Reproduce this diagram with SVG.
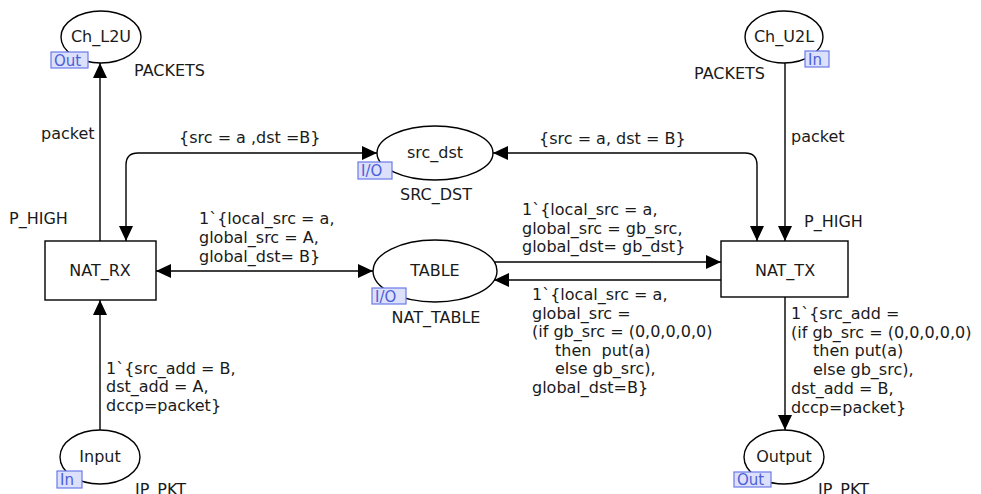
<svg xmlns="http://www.w3.org/2000/svg" width="981" height="494" viewBox="0 0 981 494">
<defs>
<marker id="ah" markerUnits="userSpaceOnUse" markerWidth="15" markerHeight="14" refX="15" refY="7" orient="auto-start-reverse">
<path d="M0,0 L15,7 L0,14 z" fill="#000"/>
</marker>
<style>
text{font-family:"DejaVu Sans","Verdana",sans-serif;font-size:16px;fill:#1a1a1a}
.c{text-anchor:middle}
.place{fill:#fff;stroke:#000;stroke-width:1.4}
.trans{fill:#fff;stroke:#000;stroke-width:1.4}
.tag{fill:#dde0fb;stroke:#6a7ae8;stroke-width:1.2}
.tagt{fill:#4a5fd8;font-size:15px}
.arc{fill:none;stroke:#000;stroke-width:1.4}
</style>
</defs>
<rect width="981" height="494" fill="#fff"/>

<g id="connectors">
<path class="arc" d="M100,241 V63" marker-end="url(#ah)"/>
<path class="arc" d="M785,63 V241" marker-end="url(#ah)"/>
<path class="arc" d="M377,153 H138 Q126,153 126,165 V241" marker-start="url(#ah)" marker-end="url(#ah)"/>
<path class="arc" d="M493,153 H745 Q757,153 757,165 V241" marker-start="url(#ah)" marker-end="url(#ah)"/>
<path class="arc" d="M156,271 H373" marker-start="url(#ah)" marker-end="url(#ah)"/>
<path class="arc" d="M494,262 H721" marker-end="url(#ah)"/>
<path class="arc" d="M721,280 H494" marker-end="url(#ah)"/>
<path class="arc" d="M100,430 V300" marker-end="url(#ah)"/>
<path class="arc" d="M785,297 V430" marker-end="url(#ah)"/>
<text x="41" y="139">packet</text>
<text x="791" y="142">packet</text>
<text x="179" y="143">{src = a ,dst =B}</text>
<text x="539" y="144">{src = a, dst = B}</text>
<text x="199" y="224">1`{local_src = a,</text>
<text x="199" y="243">global_src = A,</text>
<text x="199" y="262">global_dst= B}</text>
<text x="522" y="215">1`{local_src = a,</text>
<text x="522" y="234">global_src = gb_src,</text>
<text x="522" y="252">global_dst= gb_dst}</text>
<text x="532" y="300">1`{local_src = a,</text>
<text x="532" y="319">global_src =</text>
<text x="532" y="337">(if gb_src = (0,0,0,0,0)</text>
<text x="555" y="356" xml:space="preserve">then  put(a)</text>
<text x="555" y="374">else gb_src),</text>
<text x="532" y="393">global_dst=B}</text>
<text x="106" y="374">1`{src_add = B,</text>
<text x="106" y="392">dst_add = A,</text>
<text x="106" y="411">dccp=packet}</text>
<text x="791" y="319">1`{src_add =</text>
<text x="791" y="338">(if gb_src = (0,0,0,0,0)</text>
<text x="813" y="356">then put(a)</text>
<text x="813" y="375">else gb_src),</text>
<text x="791" y="394">dst_add = B,</text>
<text x="791" y="413">dccp=packet}</text>
</g>

<g id="Ch_L2U">
<ellipse class="place" cx="101" cy="37" rx="40" ry="26"/>
<text class="c" x="101" y="42">Ch_L2U</text>
<rect class="tag" x="51" y="52" width="37" height="16"/>
<text class="tagt" x="54" y="66">Out</text>
<text x="134" y="76">PACKETS</text>
</g>

<g id="Ch_U2L">
<ellipse class="place" cx="784" cy="37" rx="39" ry="26"/>
<text class="c" x="784" y="42">Ch_U2L</text>
<rect class="tag" x="805" y="51" width="24" height="16"/>
<text class="tagt" x="808" y="65">In</text>
<text x="694" y="79">PACKETS</text>
</g>

<g id="src_dst">
<ellipse class="place" cx="435" cy="153" rx="58" ry="27"/>
<text class="c" x="435" y="158">src_dst</text>
<rect class="tag" x="358" y="162" width="34" height="17"/>
<text class="tagt" x="361" y="176">I/O</text>
<text class="c" x="436" y="200">SRC_DST</text>
</g>

<g id="TABLE">
<ellipse class="place" cx="435" cy="271" rx="62" ry="31"/>
<text class="c" x="435" y="276">TABLE</text>
<rect class="tag" x="372" y="288" width="34" height="16"/>
<text class="tagt" x="375" y="302">I/O</text>
<text class="c" x="436" y="323">NAT_TABLE</text>
</g>

<g id="NAT_RX">
<rect class="trans" x="45" y="241" width="111" height="59"/>
<text class="c" x="100" y="276">NAT_RX</text>
<text x="9" y="224">P_HIGH</text>
</g>

<g id="NAT_TX">
<rect class="trans" x="721" y="241" width="127" height="56"/>
<text class="c" x="785" y="276">NAT_TX</text>
<text x="804" y="227">P_HIGH</text>
</g>

<g id="Input">
<ellipse class="place" cx="100" cy="457" rx="40" ry="27"/>
<text class="c" x="100" y="462">Input</text>
<rect class="tag" x="57" y="471" width="25" height="17"/>
<text class="tagt" x="60" y="485">In</text>
<text x="135" y="495">IP_PKT</text>
</g>

<g id="Output">
<ellipse class="place" cx="784" cy="457" rx="40" ry="27"/>
<text class="c" x="784" y="462">Output</text>
<rect class="tag" x="734" y="472" width="37" height="15"/>
<text class="tagt" x="737" y="485">Out</text>
<text x="818" y="495">IP_PKT</text>
</g>
</svg>
